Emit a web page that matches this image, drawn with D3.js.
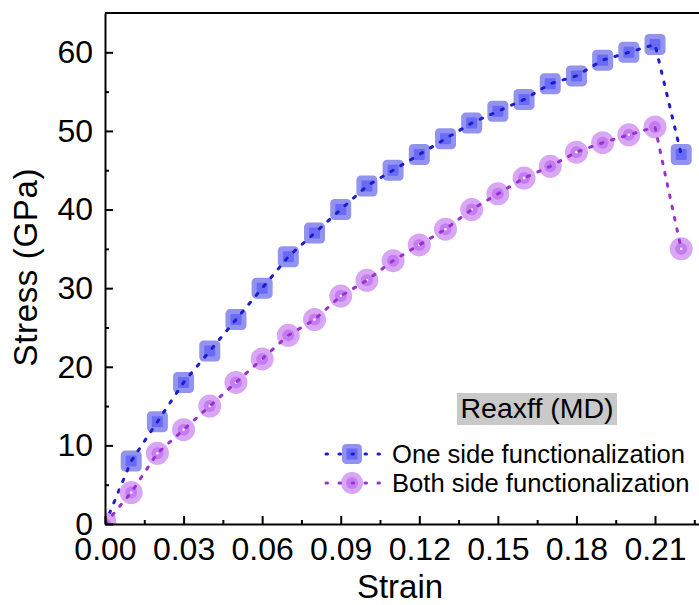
<!DOCTYPE html>
<html>
<head>
<meta charset="utf-8">
<script src="https://cdn.jsdelivr.net/npm/d3@7"></script>
<style>
  html, body { margin: 0; padding: 0; background: #fff; }
  svg { display: block; }
  text { font-family: Arial, "Liberation Sans", sans-serif; fill: #000; }
</style>
</head>
<body>
<svg id="chart" width="699" height="605"></svg>
<script>
// Stress–strain data from Reaxff MD simulations
const strain = [0.00, 0.01, 0.02, 0.03, 0.04, 0.05, 0.06, 0.07, 0.08, 0.09, 0.10, 0.11,
                0.12, 0.13, 0.14, 0.15, 0.16, 0.17, 0.18, 0.19, 0.20, 0.21, 0.22];
const oneSide = [0, 8, 13, 18, 22, 26, 30, 34, 37, 40, 43, 45,
                 47, 49, 51, 52.5, 54, 56, 57, 59, 60, 61, 47];
const bothSide = [0, 4, 9, 12, 15, 18, 21, 24, 26, 29, 31, 33.5,
                  35.5, 37.5, 40, 42, 44, 45.5, 47.3, 48.5, 49.5, 50.5, 35];
const xMajorTicks = [0.00, 0.03, 0.06, 0.09, 0.12, 0.15, 0.18, 0.21];
const xMinorTicks = [0.015, 0.045, 0.075, 0.105, 0.135, 0.165, 0.195, 0.225];
const yMajorTicks = [0, 10, 20, 30, 40, 50, 60];
const yMinorTicks = [5, 15, 25, 35, 45, 55];
const seriesNames = ["One side functionalization", "Both side functionalization"];
const legendTitle = "Reaxff (MD)";

const svg = d3.select("#chart");
const plotLeft = 105, plotTop = 13, plotBottom = 524, plotRight = 707.4;

const x = d3.scaleLinear().domain([0, 0.23]).range([plotLeft, plotRight]);
const y = d3.scaleLinear().domain([0, 65]).range([plotBottom, plotTop]);

const style = {
  one:  { line: "#1e1ec8", outer: "#9292ef", inner: "#6a6af8" },
  both: { line: "#9a30d2", outer: "#d9a6f5", inner: "#c47cf1", dot: "#f6ecff" }
};

// clip region for the plotted data
svg.append("defs").append("clipPath").attr("id", "plotClip")
  .append("rect").attr("x", plotLeft).attr("y", plotTop)
  .attr("width", plotRight - plotLeft).attr("height", plotBottom - plotTop);

const plot = svg.append("g").attr("clip-path", "url(#plotClip)");

const ptsOne = strain.map((s, i) => [s, oneSide[i]]);
const ptsBoth = strain.map((s, i) => [s, bothSide[i]]);

// square markers
function drawSquares(g, pts, st) {
  const m = g.append("g");
  pts.forEach(([sx, sy]) => {
    const cx = x(sx), cy = y(sy);
    m.append("rect").attr("x", cx - 10.5).attr("y", cy - 10.5)
      .attr("width", 21).attr("height", 21).attr("rx", 4.5)
      .attr("fill", st.outer);
    m.append("rect").attr("x", cx - 5.5).attr("y", cy - 5.5)
      .attr("width", 11).attr("height", 11).attr("rx", 1)
      .attr("fill", st.inner);
  });
}
// circle markers
function drawCircles(g, pts, st) {
  const m = g.append("g");
  pts.forEach(([sx, sy]) => {
    const cx = x(sx), cy = y(sy);
    m.append("circle").attr("cx", cx).attr("cy", cy).attr("r", 11.5).attr("fill", st.outer);
    m.append("circle").attr("cx", cx).attr("cy", cy).attr("r", 6).attr("fill", st.inner);
    m.append("circle").attr("cx", cx).attr("cy", cy).attr("r", 1.3).attr("fill", st.dot);
  });
}
function drawLine(g, pts, st) {
  g.append("path").datum(pts)
    .attr("d", d3.line().x(d => x(d[0])).y(d => y(d[1])))
    .attr("fill", "none").attr("stroke", st.line)
    .attr("stroke-width", 3).attr("stroke-linecap", "round")
    .attr("stroke-dasharray", "2.5,9");
}

drawSquares(plot, ptsOne, style.one);
drawLine(plot, ptsOne, style.one);
drawCircles(plot, ptsBoth, style.both);
drawLine(plot, ptsBoth, style.both);

// axes
const fontSize = 32;
svg.append("g").attr("transform", `translate(0,${plotBottom})`)
  .call(d3.axisBottom(x).tickValues(xMajorTicks).tickFormat(d3.format(".2f"))
    .tickSize(-8).tickSizeOuter(0).tickPadding(13));
svg.append("g").attr("transform", `translate(0,${plotBottom})`)
  .call(d3.axisBottom(x).tickValues(xMinorTicks).tickFormat("")
    .tickSize(-4).tickSizeOuter(0))
  .select(".domain").remove();

svg.append("g").attr("transform", `translate(${plotLeft},0)`)
  .call(d3.axisLeft(y).tickValues(yMajorTicks).tickFormat(d3.format("d"))
    .tickSize(-8).tickSizeOuter(0).tickPadding(12));
svg.append("g").attr("transform", `translate(${plotLeft},0)`)
  .call(d3.axisLeft(y).tickValues(yMinorTicks).tickFormat("")
    .tickSize(-4).tickSizeOuter(0))
  .select(".domain").remove();

svg.selectAll(".tick line").attr("stroke", "#000").attr("stroke-width", 2);
svg.selectAll(".domain").attr("stroke", "#000").attr("stroke-width", 2);
svg.selectAll(".tick text")
  .attr("font-family", 'Arial, "Liberation Sans", sans-serif')
  .attr("font-size", fontSize).attr("fill", "#000");

// frame: top and right edges
svg.append("path")
  .attr("d", `M${plotLeft},${plotTop}H${plotRight}V${plotBottom}`)
  .attr("fill", "none").attr("stroke", "#000").attr("stroke-width", 2);

// axis titles
svg.append("text").attr("x", 400).attr("y", 598)
  .attr("text-anchor", "middle").attr("font-size", 33).text("Strain");
svg.append("text").attr("transform", `translate(37,${(plotTop + plotBottom) / 2 - 1}) rotate(-90)`)
  .attr("text-anchor", "middle").attr("font-size", 33)
  .attr("textLength", 198).attr("lengthAdjust", "spacing")
  .text("Stress (GPa)");

// legend
const lg = svg.append("g");
lg.append("rect").attr("x", 457).attr("y", 393).attr("width", 160).attr("height", 32)
  .attr("fill", "#c9c9c9");
lg.append("text").attr("x", 537).attr("y", 418).attr("text-anchor", "middle")
  .attr("font-size", 28.5).text(legendTitle);

const legendRows = [
  { name: seriesNames[0], st: style.one, kind: "square", cy: 454 },
  { name: seriesNames[1], st: style.both, kind: "circle", cy: 483 }
];
legendRows.forEach(r => {
  const g = lg.append("g");
  const cx = 352;
  if (r.kind === "square") {
    g.append("rect").attr("x", cx - 10).attr("y", r.cy - 10).attr("width", 20).attr("height", 20)
      .attr("rx", 4.5).attr("fill", r.st.outer);
    g.append("rect").attr("x", cx - 5.5).attr("y", r.cy - 5.5).attr("width", 11).attr("height", 11)
      .attr("fill", r.st.inner);
  } else {
    g.append("circle").attr("cx", cx).attr("cy", r.cy).attr("r", 11).attr("fill", r.st.outer);
    g.append("circle").attr("cx", cx).attr("cy", r.cy).attr("r", 6).attr("fill", r.st.inner);
    g.append("circle").attr("cx", cx).attr("cy", r.cy).attr("r", 1.3).attr("fill", r.st.dot);
  }
  g.append("line").attr("x1", 326).attr("x2", 380).attr("y1", r.cy).attr("y2", r.cy)
    .attr("stroke", r.st.line).attr("stroke-width", 3).attr("stroke-linecap", "round")
    .attr("stroke-dasharray", "1.5,11.5");
  g.append("text").attr("x", 392).attr("y", r.cy + 9).attr("font-size", 25.6).text(r.name);
});
</script>
</body>
</html>
